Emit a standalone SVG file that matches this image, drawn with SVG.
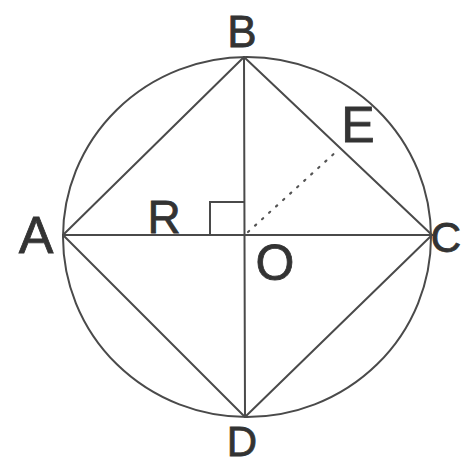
<svg xmlns="http://www.w3.org/2000/svg" width="462" height="466" viewBox="0 0 462 466">
<style>
.ln{stroke:#4a4a4a;stroke-width:2;fill:none;stroke-linecap:round}
.dot{stroke:#555;stroke-width:2.2;fill:none;stroke-dasharray:1.5 8;stroke-linecap:round}
.lb{font-family:"Liberation Sans",Arial,sans-serif;fill:#333;stroke:#333;stroke-width:0.8}
</style>
<rect width="462" height="466" fill="#fff"/>
<g id="connectors">
<ellipse class="ln" cx="247" cy="237" rx="184" ry="180"/>
<line class="ln" x1="244" y1="57" x2="63" y2="235"/>
<line class="ln" x1="244" y1="57" x2="432" y2="235"/>
<line class="ln" x1="63" y1="235" x2="245" y2="417"/>
<line class="ln" x1="245" y1="417" x2="432" y2="235"/>
<line class="ln" x1="244" y1="57" x2="245" y2="417"/>
<line class="ln" x1="63" y1="235" x2="432" y2="235"/>
<polyline class="ln" points="210,235 210,202 244,202"/>
<line class="dot" x1="248" y1="232" x2="338" y2="150"/>
</g>
<g id="B"><text class="lb" x="242" y="47" font-size="44" text-anchor="middle">B</text></g>
<g id="A"><text class="lb" x="36" y="253" font-size="52" text-anchor="middle">A</text></g>
<g id="C"><text class="lb" x="461" y="252" font-size="42" text-anchor="end">C</text></g>
<g id="D"><text class="lb" x="242" y="456" font-size="42" text-anchor="middle">D</text></g>
<g id="E"><text class="lb" x="358" y="142" font-size="50" text-anchor="middle">E</text></g>
<g id="R"><text class="lb" x="164" y="233" font-size="46" text-anchor="middle">R</text></g>
<g id="O"><text class="lb" x="275" y="280" font-size="50" text-anchor="middle">O</text></g>
</svg>
